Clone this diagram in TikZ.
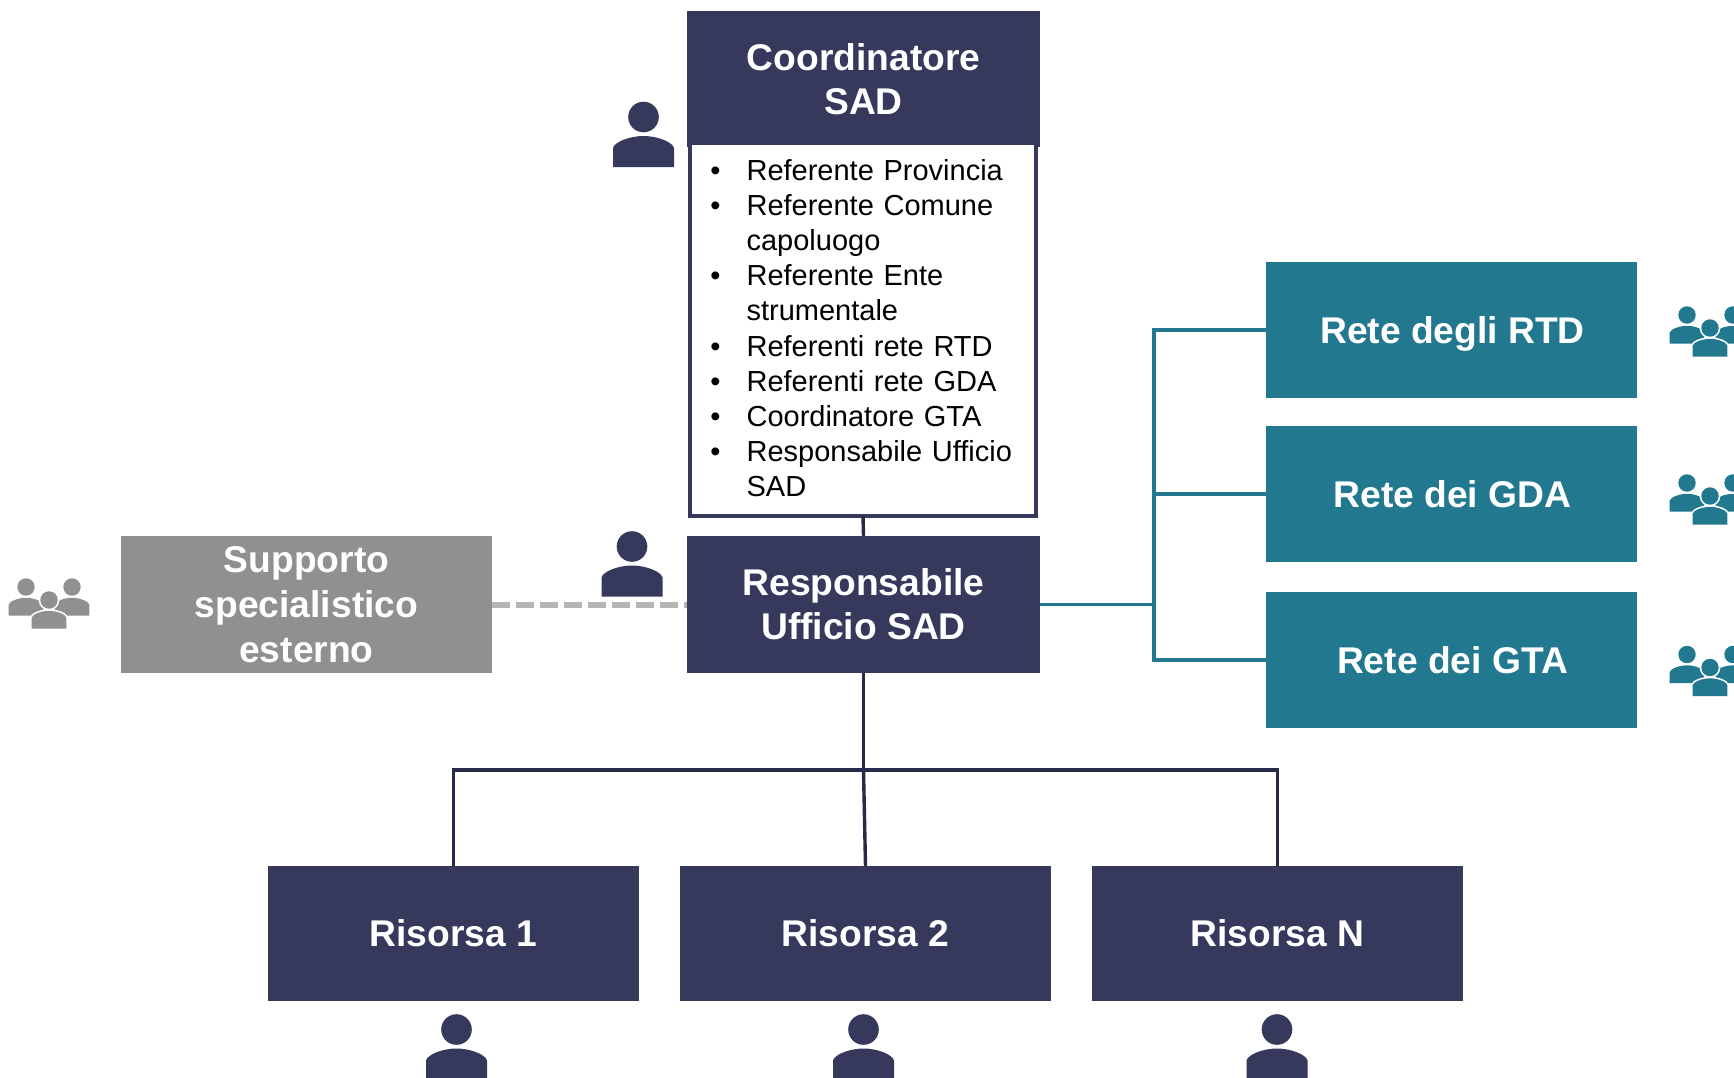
\documentclass[tikz,border=0pt]{standalone}
\usepackage{fontspec}
\setmainfont{Liberation Sans}
\definecolor{navy}{HTML}{36395C}
\definecolor{reteblue}{HTML}{22798F}
\definecolor{supgrey}{HTML}{909090}
\definecolor{dashgrey}{HTML}{B5B5B5}
\definecolor{linkdark}{HTML}{272A48}
\newcommand{\bul}{\par\noindent\llap{•\hspace{13pt}}}
\tikzset{
  x=0.5pt,y=-0.5pt,
  box/.style={rectangle,inner sep=0pt,outer sep=0pt,text=white,align=center,
    font=\fontsize{18.6}{22.1}\selectfont\bfseries},
  navybox/.style={box,fill=navy,minimum width=176.5pt,minimum height=68.5pt},
  resbox/.style={box,fill=navy,minimum width=185.5pt,minimum height=67.5pt},
  retebox/.style={box,fill=reteblue,minimum width=185.5pt,minimum height=68pt},
  supbox/.style={box,fill=supgrey,minimum width=185.5pt,minimum height=68.5pt,
    font=\fontsize{18.6}{22.4}\selectfont\bfseries},
  listbox/.style={rectangle,draw=navy,line width=2pt,fill=white,inner sep=0pt,outer sep=0pt,
    minimum width=173pt,minimum height=186.75pt,text width=173pt,text=black,
    font=\fontsize{14.5}{17.6}\selectfont},
  link/.style={draw=linkdark,line width=1.7pt},
  retelink/.style={draw=reteblue,line width=1.8pt},
  duelink/.style={draw=dashgrey,line width=3pt,dash pattern=on 9pt off 3pt},
  pics/person/.style={code={
    \path[#1] (0,0) circle (15.3);
    \path[#1] (-30.5,50) -- (-30.5,31) .. controls (-29,25) and (-14,19) .. (0,19)
      .. controls (14,19) and (29,25) .. (30.5,31) -- (30.5,50) -- cycle;
  }},
  pics/team/.style={code={
    \pic[scale=.57] at (-23,-13) {person={fill=#1}};
    \pic[scale=.57] at (23,-13) {person={fill=#1}};
    \pic[scale=.57] at (0,0) {person={fill=white,draw=white,line width=1.6pt}};
    \pic[scale=.57] at (0,0) {person={fill=#1}};
  }},
}
\begin{document}
\begin{tikzpicture}
\clip (0,0) rectangle (1734,1077);
\fill[white] (0,0) rectangle (1734,1077);

% boxes
\node[navybox,minimum height=68pt] (coord) at (863.5,79) {Coordinatore\\SAD};
\node[listbox] (list) at (863,329.25) {\leftskip=28.3pt\rightskip=0pt plus 1fil\parindent=0pt
  \bul Referente Provincia
  \bul Referente Comune\par capoluogo
  \bul Referente Ente\par strumentale
  \bul Referenti rete RTD
  \bul Referenti rete GDA
  \bul Coordinatore GTA
  \bul Responsabile Ufficio\par SAD\par\vspace*{8.2pt}};
\node[navybox] (resp) at (863.5,604.5) {Responsabile\\Ufficio SAD};
\node[supbox] (sup) at (306.5,604.5) {Supporto\\specialistico\\esterno};
\node[retebox,minimum height=68pt,text depth=0pt] (rtd) at (1451.5,330) {\hspace{1pt}Rete degli RTD};
\node[retebox,minimum height=68pt] (gda) at (1451.5,494) {\hspace{1pt}Rete dei GDA};
\node[retebox,minimum height=68pt] (gta) at (1451.5,660) {\hspace{1pt}Rete dei GTA};
\node[resbox] (ris1) at (453.5,933.5) {Risorsa 1};
\node[resbox] (ris2) at (865.5,933.5) {Risorsa 2};
\node[resbox] (risN) at (1277.5,933.5) {Risorsa N};

% junctions
\coordinate (tealbus) at (1154,604.5);
\coordinate (navybus) at (863.5,770);

% connectors
\draw[link] (list.south) -- (resp.north);
\draw[duelink] (sup.east) -- (resp.west);
\draw[retelink] (resp.east) -- (tealbus);
\draw[retelink] (rtd.west) -| (tealbus);
\draw[retelink] (gda.west) -- (tealbus |- gda.west);
\draw[retelink] (gta.west) -| (tealbus);
\draw[link] (resp.south) -- (navybus);
\draw[link] (ris1.north) |- (navybus);
\draw[link] (ris2.north) -- (navybus);
\draw[link] (risN.north) |- (navybus);

% person icons
\pic at (643.5,117) {person={fill=navy}};
\pic at (632,546.5) {person={fill=navy}};
\pic at (456.5,1029.5) {person={fill=navy}};
\pic at (863.5,1029.5) {person={fill=navy}};
\pic at (1277,1029.5) {person={fill=navy}};

% group icons
\pic at (49,600) {team=supgrey};
\pic at (1710,328) {team=reteblue};
\pic at (1710,496) {team=reteblue};
\pic at (1710,667.5) {team=reteblue};
\end{tikzpicture}
\end{document}
